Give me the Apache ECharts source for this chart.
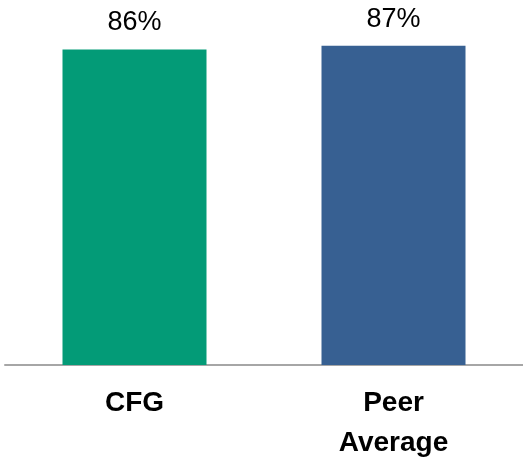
<!DOCTYPE html>
<html>
<head>
<meta charset="utf-8">
<script src="https://cdn.jsdelivr.net/npm/echarts@6/dist/echarts.min.js"></script>
<style>
  html, body { margin: 0; padding: 0; background: #fff; }
  #chart { width: 523px; height: 457px; }
</style>
</head>
<body>
<div id="chart"></div>
<script>
var categories = ['CFG', 'Peer\nAverage'];
var values = [86, 87];
var barColors = ['#039B77', '#376092'];

var chart = echarts.init(document.getElementById('chart'));

chart.setOption({
    animation: false,
    grid: { left: 5, right: 0, top: 0, bottom: 92, outerBoundsMode: 'none', containLabel: false },
    xAxis: {
        type: 'category',
        data: categories,
        axisTick: { show: false },
        axisLine: { lineStyle: { color: '#A6A6A6', width: 2 } },
        axisLabel: {
            color: '#000',
            fontFamily: 'Liberation Sans, Arial, sans-serif',
            fontWeight: 'bold',
            fontSize: 28,
            lineHeight: 40,
            margin: 18
        }
    },
    yAxis: {
        type: 'value',
        min: 0,
        max: 99.5,
        show: false,
        splitLine: { show: false }
    },
    series: [{
        type: 'bar',
        barWidth: 144,
        data: values.map(function (v, i) {
            return { value: v, itemStyle: { color: barColors[i] } };
        }),
        label: {
            show: true,
            position: 'top',
            distance: 13,
            color: '#000',
            fontFamily: "'Liberation Sans Narrow', 'Liberation Sans', sans-serif",
            fontSize: 27,
            formatter: '{c}%'
        }
    }]
});
</script>
</body>
</html>
